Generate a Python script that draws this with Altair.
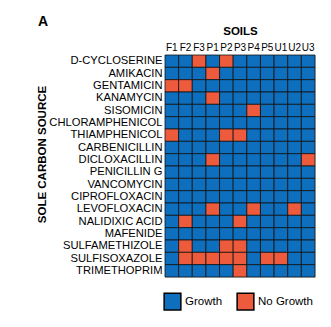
import altair as alt
import pandas as pd

soils = ["F1", "F2", "F3", "P1", "P2", "P3", "P4", "P5", "U1", "U2", "U3"]
sources = ["D-CYCLOSERINE", "AMIKACIN", "GENTAMICIN", "KANAMYCIN", "SISOMICIN",
           "CHLORAMPHENICOL", "THIAMPHENICOL", "CARBENICILLIN", "DICLOXACILLIN",
           "PENICILLIN G", "VANCOMYCIN", "CIPROFLOXACIN", "LEVOFLOXACIN",
           "NALIDIXIC ACID", "MAFENIDE", "SULFAMETHIZOLE", "SULFISOXAZOLE",
           "TRIMETHOPRIM"]
no_growth = {
    "D-CYCLOSERINE": ["F3", "P2"],
    "AMIKACIN": ["P1"],
    "GENTAMICIN": ["F1", "F2"],
    "KANAMYCIN": ["P1"],
    "SISOMICIN": ["P4"],
    "CHLORAMPHENICOL": [],
    "THIAMPHENICOL": ["F1", "P2", "P3"],
    "CARBENICILLIN": [],
    "DICLOXACILLIN": ["P1", "U3"],
    "PENICILLIN G": [],
    "VANCOMYCIN": [],
    "CIPROFLOXACIN": [],
    "LEVOFLOXACIN": ["P1", "P4", "U2"],
    "NALIDIXIC ACID": ["F2", "P3"],
    "MAFENIDE": [],
    "SULFAMETHIZOLE": ["F2", "P2", "P3"],
    "SULFISOXAZOLE": ["F2", "F3", "P1", "P2", "P3", "P5", "U1"],
    "TRIMETHOPRIM": ["P3"],
}
statuses = ["Growth", "No Growth"]
colors = ["#0D6FBE", "#EE5A3C"]

rows = []
for s in sources:
    for c in soils:
        rows.append({"source": s, "soil": c,
                     "status": "No Growth" if c in no_growth[s] else "Growth"})
df = pd.DataFrame(rows)

FONT = "Liberation Sans"

chart = alt.Chart(df).mark_rect(stroke="#111111", strokeWidth=0.8).encode(
    x=alt.X("soil:N", sort=soils, title="SOILS",
            axis=alt.Axis(orient="top", ticks=False, domain=False, labelAngle=0,
                          labelFontSize=10, labelColor="black", labelPadding=3,
                          titleFontSize=11.5, titleFontWeight="bold", titlePadding=6,
                          labelFont=FONT, titleFont=FONT)),
    y=alt.Y("source:N", sort=sources, title="SOLE CARBON SOURCE",
            axis=alt.Axis(ticks=False, domain=False, labelFontSize=11.2,
                          labelColor="black", labelPadding=3,
                          titleFontSize=11.5, titleFontWeight="bold",
                          titleX=-123, titleY=99, titleBaseline="middle",
                          labelFont=FONT, titleFont=FONT)),
    color=alt.Color("status:N", scale=alt.Scale(domain=statuses, range=colors),
                    legend=alt.Legend(title=None, orient="none", direction="horizontal",
                                      legendX=-2, legendY=237,
                                      symbolType="square", symbolSize=280,
                                      symbolStrokeColor="black", symbolStrokeWidth=1.5,
                                      symbolOpacity=1,
                                      labelFontSize=11.5, labelFont=FONT,
                                      labelColor="black", labelOffset=3,
                                      columnPadding=11)),
).properties(
    width=150, height=222,
    title=alt.TitleParams("A", anchor="start", frame="group", dx=-127,
                          fontSize=14, fontWeight="bold", font=FONT, offset=-4),
    autosize=alt.AutoSizeParams(type="none"),
    padding={"left": 165, "top": 55, "right": 16, "bottom": 50},
).configure_view(stroke="black", strokeWidth=1).configure(background="white")

chart.save("out.html", embed_options={"renderer": "svg", "actions": False})
